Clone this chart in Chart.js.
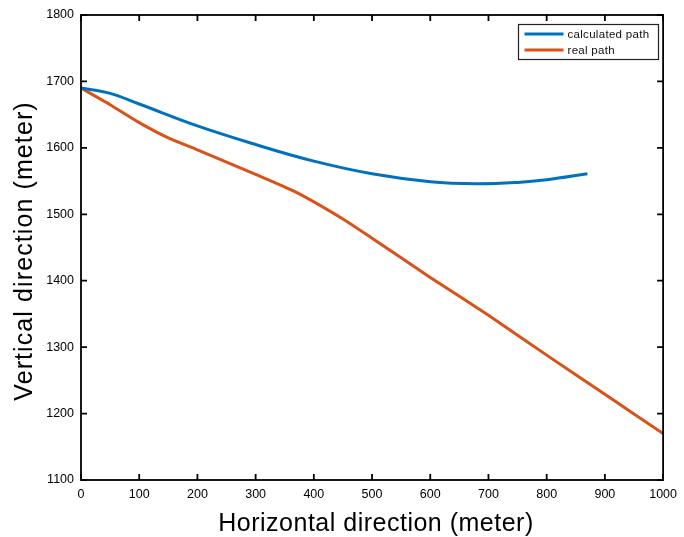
<!DOCTYPE html>
<html>
<head>
<meta charset="utf-8">
<script src="https://cdn.jsdelivr.net/npm/chart.js@4/dist/chart.umd.min.js"></script>
<style>
  html, body { margin: 0; padding: 0; background: #fff; }
  #wrap { width: 684px; height: 537px; }
</style>
</head>
<body>
<div id="wrap"><canvas id="c" width="684" height="537"></canvas></div>
<script>
// Calculated trajectory (horizontal, vertical) in meters
const calcX = [0, 50, 100, 200, 300, 400, 500, 600, 680, 750, 800, 870];
const calcY = [1690, 1682, 1666, 1633, 1605, 1580, 1561, 1549, 1546, 1548, 1552, 1561];

// Measured trajectory
const realX = [0, 50, 100, 150, 200, 300, 370, 450, 500, 600, 700, 800, 900, 1000];
const realY = [1690, 1665, 1638, 1615, 1597, 1560, 1533, 1493, 1464, 1405, 1348, 1288, 1229, 1170];

const seriesLabels = ['calculated path', 'real path'];
const seriesColors = ['#0072BD', '#D95319'];

const xTicks = [0, 100, 200, 300, 400, 500, 600, 700, 800, 900, 1000];
const yTicks = [1100, 1200, 1300, 1400, 1500, 1600, 1700, 1800];

const xTitle = 'Horizontal direction (meter)';
const yTitle = 'Vertical direction (meter)';

const toPoints = (xs, ys) => xs.map((x, i) => ({ x, y: ys[i] }));

const FONT = '"Liberation Sans", Arial, Helvetica, sans-serif';

// Box, inward tick marks, axis titles and legend drawn in MATLAB style
const decorations = {
  id: 'decorations',
  afterDatasetsDraw(chart) {
    const ctx = chart.ctx;
    const { left, right, top, bottom } = chart.chartArea;
    const xs = chart.scales.x, ys = chart.scales.y;
    ctx.save();
    ctx.strokeStyle = '#000';
    ctx.lineWidth = 1.8;
    ctx.strokeRect(left, top, right - left, bottom - top);
    const tl = 6;
    ctx.beginPath();
    xTicks.forEach(v => {
      const px = xs.getPixelForValue(v);
      ctx.moveTo(px, bottom); ctx.lineTo(px, bottom - tl);
      ctx.moveTo(px, top); ctx.lineTo(px, top + tl);
    });
    yTicks.forEach(v => {
      const py = ys.getPixelForValue(v);
      ctx.moveTo(left, py); ctx.lineTo(left + tl, py);
      ctx.moveTo(right, py); ctx.lineTo(right - tl, py);
    });
    ctx.stroke();

    // legend
    const lx = 518.5, ly = 24.5, lw = 140, lh = 35;
    ctx.fillStyle = '#fff';
    ctx.fillRect(lx, ly, lw, lh);
    ctx.lineWidth = 1.2;
    ctx.strokeStyle = '#222';
    ctx.strokeRect(lx, ly, lw, lh);
    ctx.font = '11.5px ' + FONT;
    ctx.letterSpacing = '0.3px';
    ctx.textBaseline = 'middle';
    ctx.textAlign = 'left';
    seriesLabels.forEach((lab, i) => {
      const yy = ly + 9.5 + i * 16;
      ctx.strokeStyle = seriesColors[i];
      ctx.lineWidth = 3;
      ctx.beginPath();
      ctx.moveTo(lx + 6, yy); ctx.lineTo(lx + 45, yy);
      ctx.stroke();
      ctx.fillStyle = '#111';
      ctx.fillText(lab, lx + 49, yy + 0.5);
    });

    // axis titles
    ctx.fillStyle = '#000';
    ctx.font = '25px ' + FONT;
    ctx.letterSpacing = '0.5px';
    ctx.textAlign = 'center';
    ctx.textBaseline = 'middle';
    ctx.fillText(xTitle, 376, 524);
    ctx.save();
    ctx.translate(25, 251);
    ctx.rotate(-Math.PI / 2);
    ctx.letterSpacing = '1.1px';
    ctx.fillText(yTitle, 0, 0);
    ctx.restore();
    ctx.restore();
  }
};

new Chart(document.getElementById('c'), {
  type: 'scatter',
  data: {
    datasets: [
      {
        label: seriesLabels[0],
        data: toPoints(calcX, calcY),
        showLine: true,
        borderColor: seriesColors[0],
        backgroundColor: seriesColors[0],
        borderWidth: 3,
        pointRadius: 0,
        tension: 0.4
      },
      {
        label: seriesLabels[1],
        data: toPoints(realX, realY),
        showLine: true,
        borderColor: seriesColors[1],
        backgroundColor: seriesColors[1],
        borderWidth: 3,
        pointRadius: 0,
        tension: 0.2
      }
    ]
  },
  options: {
    responsive: false,
    animation: false,
    layout: { padding: { top: 15, right: 16, left: 0, bottom: 0 } },
    plugins: {
      legend: { display: false },
      tooltip: { enabled: false }
    },
    scales: {
      x: {
        type: 'linear',
        min: 0, max: 1000,
        afterFit(s) { s.height = 57; },
        afterBuildTicks(s) { s.ticks = xTicks.map(v => ({ value: v })); },
        grid: { display: false, drawTicks: false },
        border: { display: false },
        ticks: {
          color: '#000', padding: 7, maxRotation: 0, autoSkip: false,
          font: { family: FONT, size: 12.5 },
          callback: v => String(v)
        }
      },
      y: {
        type: 'linear',
        min: 1100, max: 1800,
        afterFit(s) { s.width = 81; },
        afterBuildTicks(s) { s.ticks = yTicks.map(v => ({ value: v })); },
        grid: { display: false, drawTicks: false },
        border: { display: false },
        ticks: {
          color: '#000', padding: 7, autoSkip: false,
          font: { family: FONT, size: 12.5 },
          callback: v => String(v)
        }
      }
    }
  },
  plugins: [decorations]
});
</script>
</body>
</html>
